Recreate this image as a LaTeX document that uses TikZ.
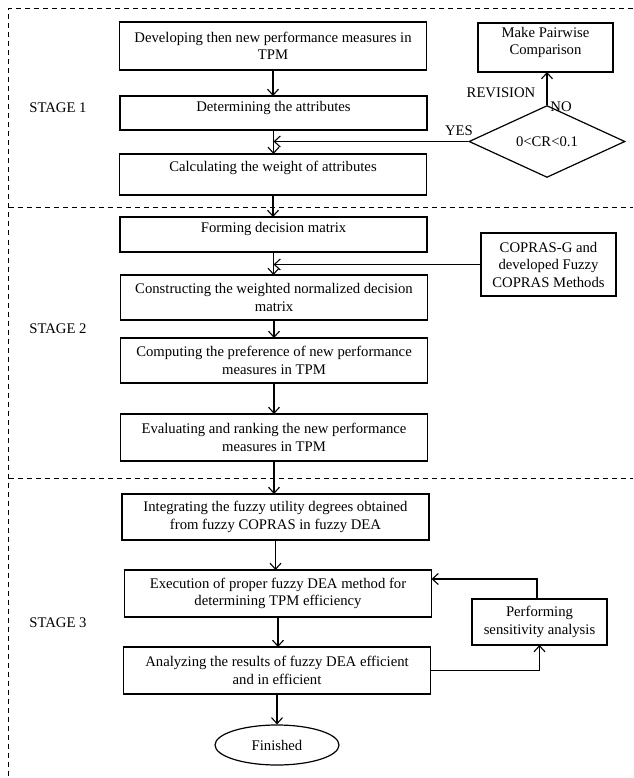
\documentclass[tikz,border=0pt]{standalone}
\usepackage{fontspec}
\setmainfont{Liberation Serif}
\usetikzlibrary{arrows.meta,shapes.geometric}
\begin{document}
\begin{tikzpicture}[x=1pt,y=-1pt,
  every node/.style={font=\fontsize{14.7}{17.5}\selectfont},
  box/.style={draw,line width=1.2pt,inner sep=0pt,outer sep=0pt,align=center,minimum width=307pt},
  sbox/.style={box,minimum width=135pt},
  arr/.style={line width=1.1pt,-{Straight Barb[length=6pt,width=11pt]}},
  frame/.style={line width=1pt,dash pattern=on 5pt off 4pt},
]
\useasboundingbox (0,0) rectangle (633,778);
% stage frames
\draw[frame] (633,9) -- (8.5,9) -- (8.5,778);
\draw[frame] (8.5,207) -- (633,207);
\draw[frame] (8.5,478) -- (633,478);
% stage labels
\node (s1) at (58,108) {STAGE 1};
\node (s2) at (58,329) {STAGE 2};
\node (s3) at (58,623) {STAGE 3};
% main column
\node[box,minimum height=48pt] (b1) at (273,46) {Developing then new performance measures in\\TPM};
\node[box,minimum height=34pt,text depth=13pt] (b2) at (273.5,113) {Determining the attributes};
\node[box,minimum height=41pt,text depth=17pt] (b3) at (273,174.5) {Calculating the weight of attributes};
\node[box,minimum height=35pt,text depth=15pt] (b4) at (273.5,234.5) {Forming decision matrix};
\node[box,minimum height=45pt] (b5) at (274,297.5) {Constructing the weighted normalized decision\\matrix};
\node[box,minimum height=45pt] (b6) at (274,360.5) {Computing the preference of new performance\\measures in TPM};
\node[box,minimum height=47pt] (b7) at (274,437.5) {Evaluating and ranking the new performance\\measures in TPM};
\node[box,minimum height=46pt] (b8) at (275.5,517) {Integrating the fuzzy utility degrees obtained\\from fuzzy COPRAS in fuzzy DEA};
\node[box,minimum height=47pt] (b9) at (278,593.5) {Execution of proper fuzzy DEA method for\\determining TPM efficiency};
\node[box,minimum height=47pt] (b10) at (277,670.5) {Analyzing the results of fuzzy DEA efficient\\and in efficient};
\node[draw,ellipse,line width=1.2pt,inner sep=0pt,minimum width=124pt,minimum height=40pt] (fin) at (277,745) {Finished};
% side nodes
\node[sbox,minimum height=49pt,text depth=13pt] (mp) at (545.5,47.5) {Make Pairwise\\Comparison};
\node[draw,diamond,line width=1.2pt,inner sep=0pt,minimum width=156pt,minimum height=49pt] (dia) at (547,141.5) {0<CR<0.1};
\node[sbox,minimum height=63pt] (cop) at (548.5,264.5) {COPRAS-G and\\developed Fuzzy\\COPRAS Methods};
\node[sbox,minimum height=46pt] (perf) at (539.5,622) {Performing\\sensitivity analysis};
% labels
\node (rev) at (501,93) {REVISION};
\node (no) at (561,107) {NO};
\node (yes) at (459,131) {YES};
% connectors
\draw[arr] (b1.south) -- (b1.south |- b2.north);
\draw[arr] (b2.south) -- (b2.south |- b3.north);
\draw[arr] (b3.south) -- (b3.south |- b4.north);
\draw[arr] (b4.south) -- (b4.south |- b5.north);
\draw[arr] (b5.south) -- (b5.south |- b6.north);
\draw[arr] (b6.south) -- (b6.south |- b7.north);
\draw[arr] (b7.south) -- (b7.south |- b8.north);
\draw[arr] (b8.south) -- (b8.south |- b9.north);
\draw[arr] (b9.south) -- (b9.south |- b10.north);
\draw[arr] (b10.south) -- (fin.north);
\draw[arr] (dia.north) -- (dia.north |- mp.south);
\draw[arr] (dia.west) -- (dia.west -| b2.south);
\draw[arr] (cop.west) -- (cop.west -| b4.south);
\coordinate (fb) at (537,579);
\draw[arr] (perf.north -| fb) -- (fb) -- (fb -| b9.east);
\draw[arr] (b10.east) -| (perf.south);
\end{tikzpicture}
\end{document}
